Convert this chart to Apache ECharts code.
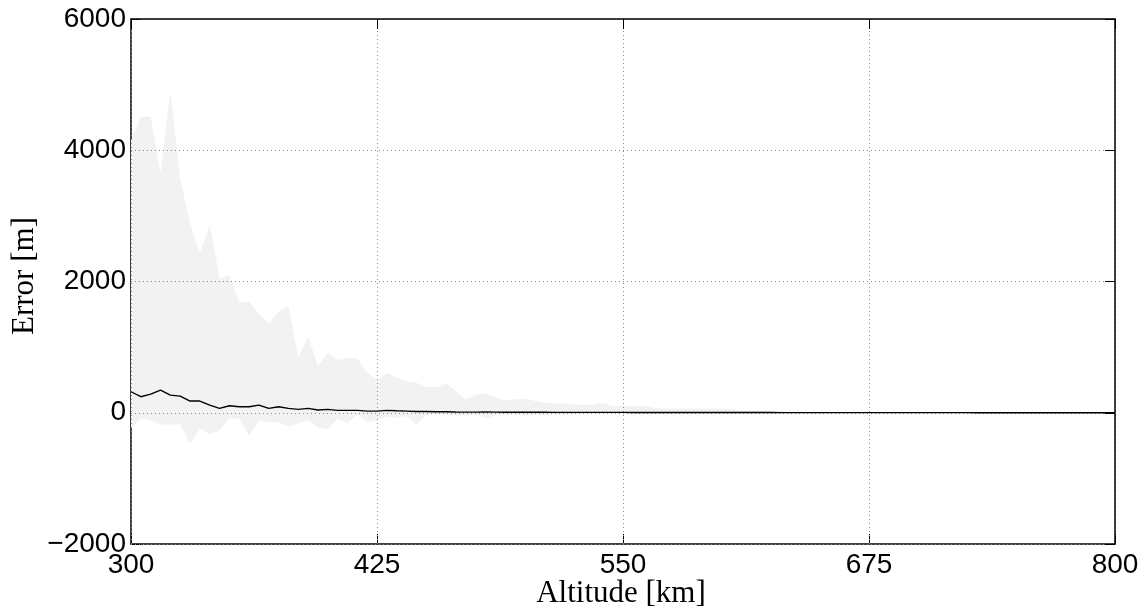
<!DOCTYPE html>
<html>
<head>
<meta charset="utf-8">
<script src="https://cdn.jsdelivr.net/npm/echarts@6/dist/echarts.min.js"></script>
<style>html,body{margin:0;padding:0;background:#fff}#c{width:1148px;height:610px}</style>
</head>
<body>
<div id="c"></div>
<script>
// Altitude grid (km), step 5
const altitude = [300,305,310,315,320,325,330,335,340,345,350,355,360,365,370,375,380,385,390,395,
  400,405,410,415,420,425,430,435,440,445,450,455,460,465,470,475,480,485,490,495,
  500,505,510,515,520,525,530,535,540,545,550,555,560,565,570,575,580,585,590,595,
  600,605,610,615,620,625,630,635,640,645,650,655,660,665,670,675,680,685,690,695,
  700,705,710,715,720,725,730,735,740,745,750,755,760,765,770,775,780,785,790,795,800];
// Upper edge of the error band (m)
const upperBand = [4150,4510,4510,3650,4890,3570,2880,2430,2860,2050,2100,1680,1690,1510,1360,1540,1630,855,1160,712,
  910,800,835,830,605,500,610,540,475,458,397,387,448,336,204,270,295,244,183,204,
  219,183,153,142,142,127,117,122,150,100,105,100,105,75,66,66,66,66,60,66,
  56,56,30,25,22,20,20,18,18,16,16,15,15,14,14,13,13,12,12,12,
  11,11,10,10,10,9,9,9,9,8,8,8,8,8,7,7,7,7,7,7,7];
// Lower edge of the error band (m)
const lowerBand = [-240,-86,-112,-178,-178,-178,-477,-239,-330,-264,-86,-86,-355,-127,-137,-147,-213,-160,-115,-226,
  -249,-90,-162,-36,-137,-112,-61,-76,-46,-188,-36,-20,-25,-46,-46,-25,-76,-46,-30,-25,
  -45,-35,-40,-30,-35,-20,-15,-12,-12,-10,-10,-10,-10,-10,-9,-9,-9,-9,-8,-8,
  -8,-8,-7,-7,-7,-7,-6,-6,-6,-6,-6,-5,-5,-5,-5,-5,-5,-4,-4,-4,
  -4,-4,-4,-4,-3,-3,-3,-3,-3,-3,-3,-3,-3,-3,-3,-2,-2,-2,-2,-2,-2];
// Mean error (m)
const meanError = [320,244,284,345,269,254,178,178,117,66,107,91,91,117,66,91,66,51,66,41,
  51,36,36,36,25,25,36,30,25,20,18,15,15,12,10,10,12,10,8,8,
  8,7,7,6,6,6,5,5,5,5,5,4,4,4,4,4,4,3,3,3,
  3,3,3,3,3,3,2,2,2,2,2,2,2,2,2,2,2,2,2,2,
  2,2,2,2,2,2,1,1,1,1,1,1,1,1,1,1,1,1,1,1,1];
const xTicks = [300,425,550,675,800];
const yTicks = [-2000,0,2000,4000,6000];

const chart = echarts.init(document.getElementById('c'), null, {renderer:'canvas'});
const tickFont = {fontFamily:'Liberation Sans, Arial, sans-serif', fontSize:28, color:'#000'};
const axisLineStyle = {color:'#000', width:1.5};
const gridStyle = {color:'#8c8c8c', width:1, type:[1,3]};

const option = {
  animation:false,
  backgroundColor:'#fff',
  grid:{left:131, right:33, top:19, bottom:66, containLabel:false},
  xAxis:[
    {type:'value', min:xTicks[0], max:xTicks[xTicks.length-1], interval:125, position:'bottom',
     axisLine:{show:true, lineStyle:axisLineStyle, onZero:false},
     axisTick:{show:true, inside:true, length:10, lineStyle:{color:'#000', width:1}},
     axisLabel:{...tickFont, margin:7},
     splitLine:{show:false}},
    {type:'value', min:xTicks[0], max:xTicks[xTicks.length-1], interval:125, position:'top', z:3,
     axisLine:{show:true, lineStyle:axisLineStyle, onZero:false},
     axisTick:{show:true, inside:true, length:10, lineStyle:{color:'#000', width:1}},
     axisLabel:{show:false},
     splitLine:{show:true, lineStyle:gridStyle}}
  ],
  yAxis:[
    {type:'value', min:yTicks[0], max:yTicks[yTicks.length-1], interval:2000, position:'left',
     axisLine:{show:true, lineStyle:axisLineStyle, onZero:false},
     axisTick:{show:true, inside:true, length:10, lineStyle:{color:'#000', width:1}},
     axisLabel:{...tickFont, margin:5, formatter:v => (v < 0 ? '\u2212' + Math.abs(v) : String(v))},
     splitLine:{show:false}},
    {type:'value', min:yTicks[0], max:yTicks[yTicks.length-1], interval:2000, position:'right', z:3,
     axisLine:{show:true, lineStyle:axisLineStyle, onZero:false},
     axisTick:{show:true, inside:true, length:10, lineStyle:{color:'#000', width:1}},
     axisLabel:{show:false},
     splitLine:{show:true, lineStyle:gridStyle}}
  ],
  series:[
    {type:'custom', z:1, xAxisIndex:0, yAxisIndex:0,
     data:[0],
     renderItem:function(params, api){
       const pts = [];
       for (let i = 0; i < altitude.length; i++) pts.push(api.coord([altitude[i], upperBand[i]]));
       for (let i = altitude.length - 1; i >= 0; i--) pts.push(api.coord([altitude[i], lowerBand[i]]));
       return {type:'polygon', shape:{points:pts}, style:{fill:'#f2f2f2', stroke:null}};
     },
     silent:true},
    {type:'line', z:5, xAxisIndex:0, yAxisIndex:0,
     data: altitude.map((a,i)=>[a, meanError[i]]),
     showSymbol:false, symbol:'none',
     lineStyle:{color:'#000', width:1.4}}
  ],
  graphic:[
    {type:'text', x:621, y:594, style:{text:'Altitude [km]', fontFamily:'Liberation Serif, Times New Roman, serif', fontSize:31, fill:'#000', textAlign:'center', textVerticalAlign:'middle'}},
    {type:'text', x:25, y:276, rotation:Math.PI/2, style:{text:'Error [m]', fontFamily:'Liberation Serif, Times New Roman, serif', fontSize:31, fill:'#000', textAlign:'center', textVerticalAlign:'middle'}}
  ]
};
chart.setOption(option);
</script>
</body>
</html>
